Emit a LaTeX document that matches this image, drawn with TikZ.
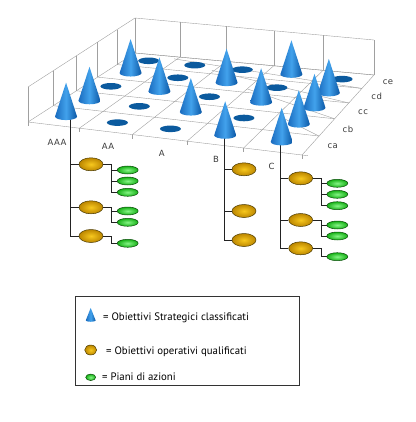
\documentclass[tikz,border=0pt]{standalone}
\usepackage{fontspec}
\setmainfont{DejaVu Sans}
\newfontfamily\lblfont[LetterSpace=6]{DejaVu Sans}
\newfontfamily\legfont{PT Sans}
\usetikzlibrary{calc,shapes.geometric}
\definecolor{gridc}{HTML}{A0A0A0}
\definecolor{discc}{HTML}{0B5A9E}
\definecolor{coneL}{HTML}{1A6BBE}
\definecolor{coneM}{HTML}{42A2EC}
\definecolor{coneR}{HTML}{0A56A4}
\definecolor{oin}{HTML}{F7C81E}
\definecolor{oout}{HTML}{BC8600}
\definecolor{obord}{HTML}{4A3A00}
\definecolor{gin}{HTML}{86F586}
\definecolor{gout}{HTML}{16B016}
\definecolor{gbord}{HTML}{0B4D0B}
\definecolor{treec}{HTML}{222222}
\definecolor{labc}{HTML}{3A3A3A}
\definecolor{legc}{HTML}{333333}
\begin{document}
\begin{tikzpicture}[x=1pt,y=1pt,
  gridline/.style={draw=gridc,line width=0.4pt},
  discmark/.style={fill=discc},
  orangeball/.style={ellipse,draw=obord,line width=0.5pt,inner color=oin,outer color=oout,minimum width=24pt,minimum height=13pt,inner sep=0pt},
  greenball/.style={ellipse,draw=gbord,line width=0.5pt,inner color=gin,outer color=gout,minimum width=21pt,minimum height=8pt,inner sep=0pt},
  treeline/.style={draw=treec,line width=0.7pt},
  axlabel/.style={font=\lblfont\fontsize{8.5}{9}\selectfont,text=labc,inner sep=0pt},
  legtext/.style={font=\legfont\fontsize{10.8}{12}\selectfont,text=black,anchor=base west,inner sep=0pt},
  stratcone/.pic={\shade[left color=coneL,right color=coneR,middle color=coneM]
     (-11,0) -- (0,34) -- (11,0) arc[start angle=0,end angle=-180,x radius=11,y radius=3.5] -- cycle;}
]
\useasboundingbox (0,0) rectangle (415,-422);
% floor corners
\coordinate (FL) at (28,-122);
\coordinate (FR) at (302,-155);
\coordinate (BL) at (135,-53);
\coordinate (BR) at (374,-75);
% walls
\foreach \u in {0,0.1875,0.3809,0.5806,0.7869,1}
  \draw[gridline] ($(BL)!\u!(BR)$) -- ++(0,35);
\draw[gridline] ($(BL)+(0,35)$) -- ($(BR)+(0,35)$);
\foreach \v in {0,0.2366,0.4526,0.6503,0.8322,1}
  \draw[gridline] ($(FL)!\v!(BL)$) -- ++(0,35);
\draw[gridline] ($(FL)+(0,35)$) -- ($(BL)+(0,35)$);
% floor grid
\foreach \u in {0,0.1875,0.3809,0.5806,0.7869,1}{
  \draw[gridline] ($(FL)!\u!(FR)$) -- ($(BL)!\u!(BR)$);
  \draw[gridline] ($(FL)!\u!(FR)$) -- ++(0,-4);
}
\foreach \v in {0,0.2366,0.4526,0.6503,0.8322,1}{
  \draw[gridline] ($(FL)!\v!(BL)$) -- ($(FR)!\v!(BR)$);
  \draw[gridline] ($(FR)!\v!(BR)$) -- ($(FR)!\v!(BR)!-6pt!(FL)!\v!(BL)$);
}
% cell centres
\foreach \i/\u in {1/0.0930,2/0.2834,3/0.48,4/0.6829,5/0.8925}{
  \foreach \j/\v in {1/0.1211,2/0.347,3/0.5536,4/0.7432,5/0.9178}{
    \coordinate (f) at ($(FL)!\u!(FR)$);
    \coordinate (b) at ($(BL)!\u!(BR)$);
    \coordinate (c\i\j) at ($(f)!\v!(b)$);
  }
}
% discs
\foreach \c in {13,15,21,22,24,25,31,33,35,42,44,55}
  \fill[discmark] (c\c) ellipse[x radius=10.5,y radius=3.3];
% axis labels
\node[axlabel] (lAAA) at (57,-142.7) {AAA};
\node[axlabel] (lAA) at (108,-146.7) {AA};
\node[axlabel] (lA) at (161.7,-153.3) {A};
\node[axlabel] (lB) at (216,-159) {B};
\node[axlabel] (lC) at (271.7,-166) {C};
\node[axlabel] (lca) at (332.7,-146) {ca};
\node[axlabel] (lcb) at (348,-129) {cb};
\node[axlabel] (lcc) at (363,-111.7) {cc};
\node[axlabel] (lcd) at (376.7,-96.7) {cd};
\node[axlabel] (lce) at (388,-82) {ce};
% tree nodes
\node[orangeball] (oA1) at (91,-164.3) {};
\node[orangeball] (oA2) at (91,-207.3) {};
\node[orangeball] (oA3) at (91,-236) {};
\node[greenball] (gA11) at (127.7,-170) {};
\node[greenball] (gA12) at (127.7,-181) {};
\node[greenball] (gA13) at (127.7,-192.3) {};
\node[greenball] (gA21) at (127.7,-211) {};
\node[greenball] (gA22) at (127.7,-222.3) {};
\node[greenball] (gA31) at (127.7,-243.3) {};
\node[orangeball] (oB1) at (244,-169.3) {};
\node[orangeball] (oB2) at (244,-211) {};
\node[orangeball] (oB3) at (244,-240) {};
\node[orangeball] (oC1) at (300.7,-178.3) {};
\node[orangeball] (oC2) at (300.7,-220) {};
\node[orangeball] (oC3) at (300.7,-248.3) {};
\node[greenball] (gC11) at (337.3,-183.3) {};
\node[greenball] (gC12) at (337.3,-194.3) {};
\node[greenball] (gC13) at (337.3,-205.7) {};
\node[greenball] (gC21) at (337.3,-225) {};
\node[greenball] (gC22) at (337.3,-236) {};
\node[greenball] (gC31) at (337.3,-256.7) {};
% trunks and junctions
\coordinate (tA) at (70.7,-118);
\coordinate (tB) at (224.5,-135);
\coordinate (tC) at (280.7,-142);
\coordinate (jA1) at (111,-164.3);
\coordinate (jA2) at (111.5,-207.3);
\coordinate (jA3) at (111,-236);
\coordinate (jC1) at (321,-178.3);
\coordinate (jC2) at (321,-220);
\coordinate (jC3) at (321,-248.3);
\draw[treeline] (tA) |- (oA3);
\draw[treeline] (tA |- oA1) -- (oA1);
\draw[treeline] (tA |- oA2) -- (oA2);
\draw[treeline] (oA1) -- (jA1) |- (gA13);
\draw[treeline] (jA1 |- gA11) -- (gA11);
\draw[treeline] (jA1 |- gA12) -- (gA12);
\draw[treeline] (oA2) -- (jA2) |- (gA22);
\draw[treeline] (jA2 |- gA21) -- (gA21);
\draw[treeline] (oA3) -- (jA3) |- (gA31);
\draw[treeline] (tB) |- (oB3);
\draw[treeline] (tB |- oB1) -- (oB1);
\draw[treeline] (tB |- oB2) -- (oB2);
\draw[treeline] (tC) |- (oC3);
\draw[treeline] (tC |- oC1) -- (oC1);
\draw[treeline] (tC |- oC2) -- (oC2);
\draw[treeline] (oC1) -- (jC1) |- (gC13);
\draw[treeline] (jC1 |- gC11) -- (gC11);
\draw[treeline] (jC1 |- gC12) -- (gC12);
\draw[treeline] (oC2) -- (jC2) |- (gC22);
\draw[treeline] (jC2 |- gC21) -- (gC21);
\draw[treeline] (oC3) -- (jC3) |- (gC31);
% cones, back to front
\foreach \c in {45,14,34,54,23,43,53,12,32,52,11,41,51}
  \pic at (c\c) {stratcone};
% legend
\draw[draw=legc,line width=0.6pt] (75,-296.7) rectangle (299.3,-385);
\pic[xscale=0.45,yscale=0.37] at (90.7,-320.5) {stratcone};
\node[legtext] (t1) at (103,-320.7) {= Obiettivi Strategici classificati};
\node[orangeball,minimum width=12pt,minimum height=10pt] (lo) at (90.7,-350) {};
\node[legtext] (t2) at (106,-354) {= Obiettivi operativi qualificati};
\node[greenball,minimum width=10pt,minimum height=6.5pt] (lg) at (90.7,-377.3) {};
\node[legtext] (t3) at (102,-380.7) {= Piani di azioni};
\end{tikzpicture}
\end{document}
